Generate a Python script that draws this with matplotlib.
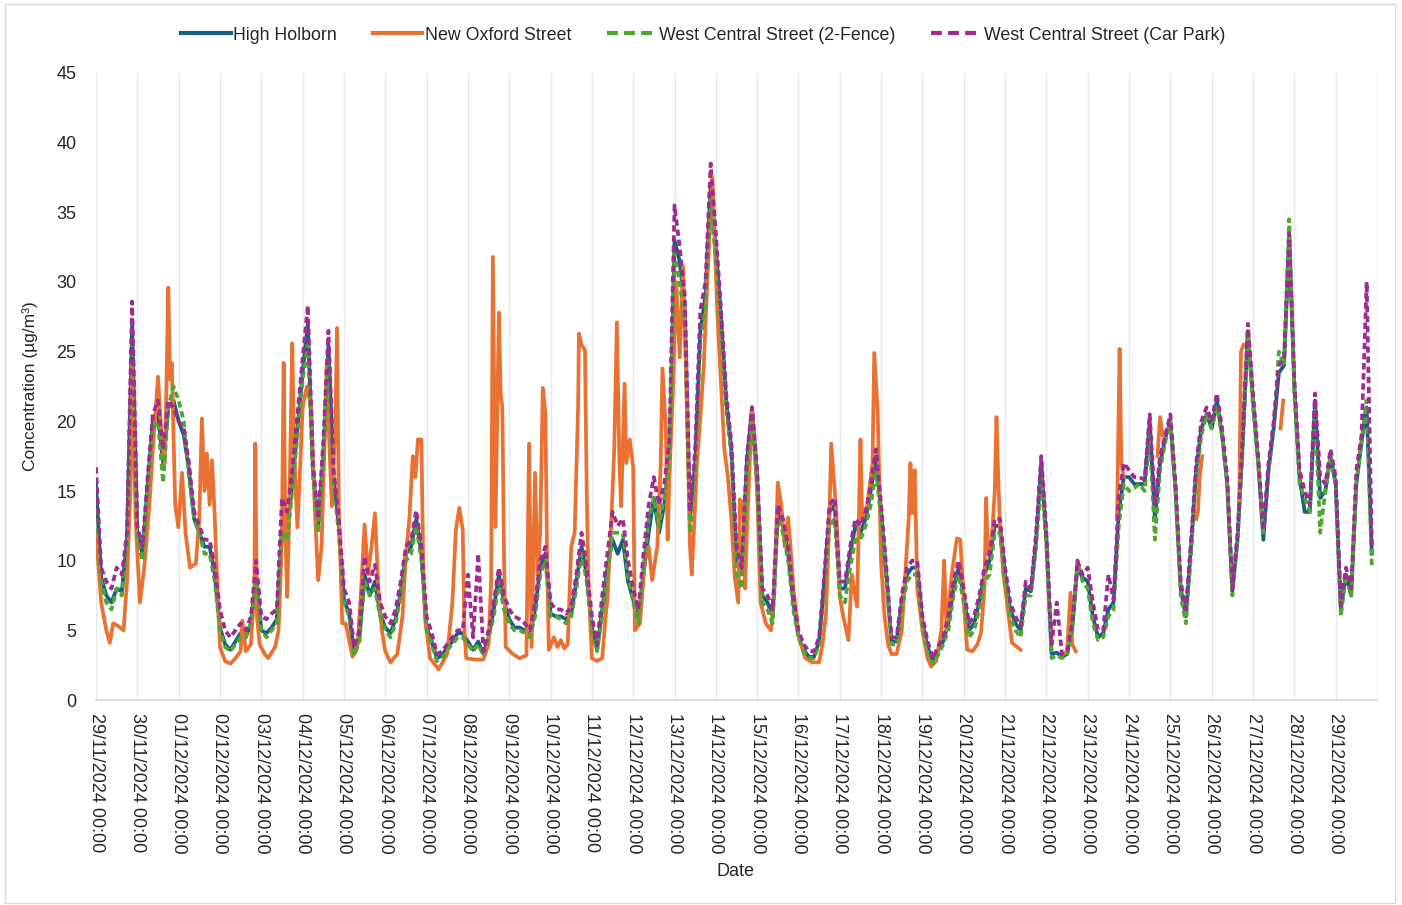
import numpy as np
import matplotlib
matplotlib.use("Agg")
import matplotlib.pyplot as plt
from matplotlib.lines import Line2D
from matplotlib.patches import Rectangle

nan = float("nan")

# ---------------- data ----------------
tick_labels = ["29/11/2024 00:00", "30/11/2024 00:00", "01/12/2024 00:00", "02/12/2024 00:00",
               "03/12/2024 00:00", "04/12/2024 00:00", "05/12/2024 00:00", "06/12/2024 00:00",
               "07/12/2024 00:00", "08/12/2024 00:00", "09/12/2024 00:00", "10/12/2024 00:00",
               "11/12/2024 00:00", "12/12/2024 00:00", "13/12/2024 00:00", "14/12/2024 00:00",
               "15/12/2024 00:00", "16/12/2024 00:00", "17/12/2024 00:00", "18/12/2024 00:00",
               "19/12/2024 00:00", "20/12/2024 00:00", "21/12/2024 00:00", "22/12/2024 00:00",
               "23/12/2024 00:00", "24/12/2024 00:00", "25/12/2024 00:00", "26/12/2024 00:00",
               "27/12/2024 00:00", "28/12/2024 00:00", "29/12/2024 00:00"]

# hours since 29/11/2024 00:00, 3-hourly readings
hours = np.arange(0, 744, 3)

high_holborn = [
    15.5, 8.8, 7.5, 7.0, 8.0, 7.8, 11.5, 27.0,
    12.0, 10.5, 15.5, 20.0, 20.5, 17.0, 21.0, 21.5,
    20.0, 19.0, 16.5, 13.0, 12.0, 11.0, 11.0, 9.0,
    5.2, 4.0, 3.6, 4.2, 4.8, 4.5, 5.5, 9.0,
    5.0, 4.8, 5.2, 5.8, 12.5, 12.0, 15.5, 19.5,
    23.5, 27.0, 16.5, 12.5, 17.5, 25.5, 16.0, 12.5,
    7.2, 6.2, 3.3, 4.5, 9.0, 7.5, 8.5, 6.2,
    5.2, 4.8, 5.8, 7.8, 10.5, 11.0, 13.0, 10.5,
    5.2, 4.2, 3.0, 3.2, 3.8, 4.2, 4.8, 4.8,
    4.2, 3.6, 4.2, 3.3, 4.5, 6.5, 9.0, 7.0,
    5.8, 5.2, 5.2, 5.0, 4.5, 6.5, 9.5, 10.5,
    6.2, 6.0, 6.0, 5.8, 6.2, 8.5, 11.0, 9.0,
    5.2, 3.6, 6.5, 9.5, 11.5, 10.5, 11.5, 8.5,
    7.2, 5.8, 9.0, 12.0, 14.5, 12.0, 14.0, 16.5,
    33.0, 31.5, 28.0, 13.0, 17.0, 26.5, 29.0, 37.0,
    32.5, 27.5, 21.5, 18.0, 10.0, 9.0, 17.0, 21.0,
    16.0, 7.5, 7.0, 6.0, 13.5, 12.5, 10.5, 7.0,
    4.6, 3.6, 3.1, 3.1, 4.2, 8.5, 13.5, 14.0,
    8.0, 8.0, 10.5, 12.5, 12.0, 13.0, 15.0, 17.5,
    13.5, 9.0, 4.2, 4.2, 7.0, 9.0, 9.5, 9.5,
    5.5, 3.8, 2.8, 3.5, 4.2, 5.5, 8.0, 9.5,
    7.5, 5.0, 5.5, 7.0, 9.0, 10.0, 12.5, 12.5,
    9.0, 6.5, 5.5, 5.0, 8.0, 7.8, 11.5, 17.0,
    11.5, 3.3, 3.4, 3.1, 3.3, 5.2, 9.5, 8.8,
    8.5, 6.0, 4.5, 4.8, 6.5, 7.0, 13.5, 16.0,
    16.0, 15.5, 15.5, 15.5, 20.0, 13.0, 17.0, 18.8,
    20.0, 15.0, 8.0, 6.0, 11.0, 16.5, 19.5, 20.5,
    19.5, 21.5, 19.0, 15.5, 7.8, 11.5, 18.5, 26.5,
    21.5, 17.0, 11.5, 16.5, 19.5, 23.5, 24.0, 33.0,
    22.5, 16.0, 13.5, 13.5, 21.5, 14.5, 15.0, 17.5,
    15.5, 6.5, 9.0, 7.5, 15.5, 18.5, 21.0, 10.5]

wcs_fence = [
    14.5, 8.5, 7.0, 6.5, 8.0, 7.5, 11.0, 26.0,
    11.5, 10.0, 15.0, 19.5, 20.0, 15.6, 21.0, 22.5,
    21.5, 20.0, 16.0, 13.0, 12.0, 10.5, 10.5, 8.5,
    5.0, 3.8, 3.5, 4.0, 4.5, 4.5, 5.5, 8.5,
    5.0, 4.5, 5.0, 5.5, 12.0, 11.5, 15.0, 19.0,
    23.0, 25.5, 16.0, 12.0, 17.0, 24.5, 15.5, 12.0,
    7.0, 6.0, 3.2, 4.2, 8.5, 7.5, 8.0, 6.0,
    5.0, 4.5, 5.5, 7.5, 10.0, 10.5, 12.5, 10.0,
    5.0, 4.0, 2.8, 3.0, 3.6, 4.0, 4.5, 4.5,
    4.0, 3.5, 4.0, 3.2, 4.5, 6.0, 8.5, 6.5,
    5.5, 5.0, 5.0, 4.8, 4.5, 6.0, 9.0, 10.0,
    6.0, 6.0, 5.8, 5.5, 6.0, 8.0, 10.5, 8.5,
    5.0, 3.5, 6.0, 9.0, 12.0, 12.0, 12.0, 9.0,
    7.0, 5.5, 9.5, 13.0, 14.5, 12.5, 14.5, 17.0,
    32.0, 30.0, 27.0, 12.0, 16.5, 26.0, 28.0, 36.0,
    31.5, 26.5, 21.0, 17.5, 9.0, 8.0, 16.0, 20.0,
    15.5, 7.0, 6.5, 5.5, 13.0, 12.0, 10.0, 6.5,
    4.5, 3.5, 3.0, 3.0, 4.0, 8.0, 12.5, 13.0,
    7.5, 7.0, 9.5, 11.5, 11.5, 12.5, 14.0, 16.5,
    13.0, 8.5, 4.0, 4.0, 6.5, 8.5, 9.0, 9.0,
    5.0, 3.5, 2.6, 3.2, 4.0, 5.0, 7.5, 9.0,
    7.0, 4.5, 5.0, 6.5, 8.5, 9.0, 12.0, 12.0,
    8.5, 6.0, 5.0, 4.5, 7.5, 7.5, 11.0, 16.0,
    11.0, 3.0, 3.2, 3.0, 3.2, 5.0, 10.0, 8.5,
    8.0, 5.5, 4.3, 4.5, 6.0, 6.5, 12.5, 15.5,
    15.0, 15.2, 15.5, 15.0, 19.0, 11.5, 16.5, 18.5,
    20.0, 15.0, 7.5, 5.5, 10.5, 16.0, 19.0, 20.5,
    19.5, 21.0, 19.0, 15.5, 7.5, 11.5, 18.0, 26.5,
    21.0, 17.0, 12.0, 16.5, 19.5, 25.0, 24.0, 34.5,
    22.0, 15.5, 14.5, 13.5, 21.0, 12.0, 15.0, 17.5,
    15.5, 6.0, 9.0, 7.5, 15.5, 18.5, 21.5, 9.6]

wcs_carpark = [
    16.7, 9.5, 8.5, 8.0, 9.5, 9.0, 12.0, 28.6,
    12.5, 11.0, 16.0, 20.5, 21.5, 18.0, 21.5, 21.0,
    20.0, 19.5, 17.0, 13.5, 12.5, 11.5, 11.5, 9.5,
    6.5, 5.0, 4.5, 5.0, 5.5, 5.0, 6.0, 10.0,
    6.0, 5.8, 6.2, 6.5, 14.5, 13.5, 16.5, 20.5,
    24.5, 28.3, 17.0, 13.0, 18.5, 26.5, 16.5, 13.0,
    8.0, 7.0, 3.8, 5.0, 10.3, 8.5, 9.7, 7.0,
    6.0, 5.5, 6.5, 8.5, 11.0, 11.5, 13.6, 11.0,
    6.0, 4.8, 3.3, 3.5, 4.0, 4.5, 5.0, 5.0,
    9.0, 4.5, 10.5, 3.5, 5.0, 7.0, 9.5, 7.5,
    6.5, 6.0, 5.8, 5.5, 5.0, 7.0, 10.0, 11.0,
    7.0, 6.5, 6.5, 6.2, 6.7, 9.0, 12.0, 9.5,
    6.0, 4.0, 7.5, 10.5, 13.5, 12.5, 13.0, 10.0,
    8.0, 6.5, 10.5, 14.0, 16.0, 14.0, 15.5, 18.5,
    35.5, 32.5, 29.0, 13.5, 18.0, 28.0, 30.0, 38.5,
    33.5, 28.0, 22.0, 18.5, 11.0, 9.5, 17.5, 21.0,
    16.5, 8.0, 7.5, 6.5, 14.0, 13.0, 11.0, 7.5,
    5.0, 4.0, 3.5, 3.5, 4.5, 9.0, 14.0, 14.5,
    8.5, 8.5, 11.0, 13.0, 12.5, 13.5, 15.5, 18.0,
    14.0, 9.5, 4.5, 4.5, 7.5, 9.5, 10.0, 10.0,
    6.0, 4.2, 3.0, 3.8, 4.5, 6.0, 8.5, 10.0,
    8.0, 5.5, 6.0, 7.5, 9.5, 10.5, 13.0, 13.0,
    9.5, 7.0, 6.0, 5.3, 8.5, 8.0, 12.0, 17.5,
    12.0, 4.0, 7.0, 3.3, 3.5, 5.5, 10.0, 9.0,
    9.5, 7.0, 5.0, 5.0, 9.0, 7.2, 14.5, 17.0,
    16.5, 16.0, 16.0, 15.8, 20.5, 14.0, 17.5, 19.0,
    20.5, 15.5, 8.5, 6.5, 11.5, 17.0, 20.0, 21.0,
    20.0, 22.0, 19.5, 16.0, 8.0, 12.0, 19.0, 27.0,
    22.0, 17.5, 12.2, 17.0, 20.0, 24.0, 24.5, 33.5,
    23.0, 16.5, 15.0, 14.0, 22.0, 16.0, 15.5, 18.0,
    16.0, 6.8, 9.5, 8.0, 16.5, 19.0, 30.0, 11.0]

# New Oxford Street: readings (hour, value); nan = missing data
nos_hours = [
    0, 3, 6, 8, 10, 13, 16, 18, 20, 21, 23,
    25.5, 28, 31, 33, 36, 38, 40, 42, 43, 44, 46, 47.8,
    50, 52, 54.6, 58, 60, 61.5, 63, 64.4, 66, 67.4, 69, 70, 72,
    75, 78, 81, 84, 85, 87, 90, 92, 92.5, 93.5, 95,
    98, 100, 104, 106, 107, 108, 109, 110, 111, 112, 114, 115, 117, 119,
    120, 122.5, 125, 127, 129, 131, 134, 135, 137, 139, 140, 141, 143,
    145, 149, 152, 154, 156, 158, 160, 162, 164, 166,
    168, 171, 175, 178, 180, 182, 184, 185.5, 187, 189, 190, 191, 194, 199,
    204, 207, 209, 211, 213, 214, 215, 220, 225, 228, 229.5, 230.5, 232, 234, 235, 236, 237, 238, 242, 246, 250,
    251.5, 253, 255, 256.5, 258, 259.5, 261, 262, 263, 266, 268, 270, 272, 274, 276, 278, 280, 280.5, 282, 284, 285, 286,
    288, 291, 294, 296, 297, 299, 301, 302.5, 304, 305, 307, 308, 310,
    312, 313, 316, 319, 321, 323, 326, 328, 329, 331, 332, 333, 335,
    337, 339, 341, 343, 345, 346, 348, 349, 351, 353, 355, 357, 358, 359,
    361, 364, 365, 367, 369, 371, 373, 374, 376, 377, 378, 381,
    384, 386, 389, 392, 394, 396, 398, 400, 402, 404, 405,
    408, 412, 416, 420, 422, 424, 426, 427, 430, 432, 434, 437, 439, 442, 444, 445, 448, 451, 452, 454,
    456, 458, 460, 462, 465, 468, 470, 472, 473, 474, 475.5, 477,
    480, 483, 485, 488, 491, 492.6, 494, 497, 500, 502, 504, 506, 509, 512, 514, 516, 517, 518, 520,
    522, 523, 524, 525, 527, 528, 532, 537,
    540, 562, 564, 566, 567, 569,
    570, 593, 594.5, 595.5, 597,
    598, 616.5, 618, 619.5,
    620, 639, 640, 641, 642.5,
    643, 664, 665, 666.5,
    667, 688, 689.5]
nos_vals = [
    12.0, 7.0, 5.0, 4.1, 5.5, 5.3, 5.0, 8.5, 15.0, 24.0, 13.0,
    7.0, 9.5, 14.0, 18.0, 23.2, 19.0, 17.0, 29.6, 23.0, 24.2, 14.0, 12.4,
    16.3, 12.0, 9.5, 9.8, 13.0, 20.2, 15.0, 17.7, 14.0, 17.2, 13.0, 9.8, 3.8,
    2.8, 2.6, 3.0, 3.5, 5.7, 3.5, 4.0, 8.0, 18.4, 6.0, 4.0,
    3.3, 3.0, 3.8, 5.0, 8.0, 12.0, 24.2, 12.0, 7.4, 12.0, 25.6, 18.0, 12.4, 18.0,
    21.0, 22.5, 21.0, 14.0, 8.6, 11.0, 24.0, 20.0, 13.9, 20.0, 26.7, 14.0, 5.5,
    5.5, 3.1, 4.0, 8.0, 12.6, 9.0, 11.0, 13.4, 8.0, 5.0,
    3.5, 2.7, 3.3, 6.0, 10.5, 13.0, 17.5, 16.0, 18.7, 18.7, 10.0, 6.0, 3.0, 2.2,
    3.3, 7.0, 12.2, 13.8, 12.2, 5.0, 3.0, 2.9, 2.9, 4.0, 8.6, 31.8, 12.4, 27.8, 22.0, 21.0, 10.0, 3.8, 3.3, 3.0, 3.2,
    18.4, 3.8, 16.3, 9.0, 12.0, 22.4, 20.6, 10.0, 3.6, 4.5, 3.8, 4.3, 3.7, 4.0, 11.0, 12.0, 21.0, 26.3, 25.5, 25.1, 15.0, 8.6,
    3.0, 2.8, 3.0, 6.0, 7.2, 12.0, 18.0, 27.1, 17.0, 13.9, 22.7, 17.0, 18.7,
    16.7, 5.0, 5.5, 10.5, 11.0, 8.6, 11.0, 17.0, 23.8, 19.4, 11.5, 16.0, 22.0,
    30.0, 24.6, 31.1, 22.0, 11.0, 9.0, 14.0, 17.0, 20.3, 24.0, 30.0, 35.0, 37.5, 34.0,
    27.5, 20.3, 17.9, 16.0, 13.0, 8.8, 7.0, 14.4, 14.0, 8.0, 12.0, 21.0,
    15.0, 7.0, 5.5, 5.0, 8.0, 15.6, 14.0, 11.0, 13.1, 10.0, 8.1,
    4.6, 3.0, 2.7, 2.7, 4.0, 6.2, 13.4, 18.4, 13.4, 7.4, 6.0, 4.3, 9.0, 6.7, 18.7, 13.0, 14.0, 17.0, 24.9, 20.7,
    9.8, 6.0, 4.0, 3.3, 3.3, 5.0, 9.0, 13.0, 17.0, 13.4, 16.5, 8.0,
    5.0, 3.0, 2.4, 2.8, 5.0, 10.0, 5.0, 9.0, 11.6, 11.5, 7.0, 3.6, 3.5, 4.0, 4.8, 8.0, 14.5, 10.5, 11.0,
    15.0, 20.3, 16.0, 12.5, 9.0, 8.1, 4.1, 3.6,
    nan, 3.3, 3.5, 7.7, 4.0, 3.5,
    nan, 13.0, 25.2, 17.0, 16.0,
    nan, 17.5, 20.3, 19.0,
    nan, 13.0, 13.5, 16.0, 17.5,
    nan, 14.0, 25.0, 25.5,
    nan, 19.5, 21.5]

series_names = ["High Holborn", "New Oxford Street",
                "West Central Street (2-Fence)", "West Central Street (Car Park)"]
colors = ["#156082", "#E97132", "#4EA72E", "#A02B93"]

# ---------------- figure ----------------
plt.rcParams["font.family"] = ["Liberation Sans", "DejaVu Sans"]
W, H = 1402, 905
fig = plt.figure(figsize=(W / 100, H / 100), dpi=100)
fig.patch.set_facecolor("white")
fig.add_artist(Rectangle((5 / W, 2 / H), 1390 / W, 899 / H, transform=fig.transFigure,
                         fill=False, edgecolor="#D9D9D9", lw=1))

ax = fig.add_axes([96 / W, 1 - 700 / H, (1377 - 96) / W, (700 - 73) / H])

lw = 2.7
dash = (1.7, 1.0)
ax.plot(hours, high_holborn, color=colors[0], lw=lw, zorder=3)
ax.plot(nos_hours, nos_vals, color=colors[1], lw=lw, zorder=4)
ax.plot(hours, wcs_fence, color=colors[2], lw=lw, dashes=dash, zorder=5)
ax.plot(hours, wcs_carpark, color=colors[3], lw=lw, dashes=dash, zorder=6)

ax.set_xlim(0, 744)
ax.set_ylim(0, 45)
ax.set_xticks(np.arange(0, 24 * len(tick_labels), 24))
ax.set_xticklabels(tick_labels, rotation=-90, fontsize=13, color="#262626")
ax.set_yticks(np.arange(0, 46, 5))
ax.set_yticklabels([str(v) for v in range(0, 46, 5)], fontsize=13, color="#262626")
ax.tick_params(axis="x", length=0, pad=9)
ax.tick_params(axis="y", length=0, pad=14)
for lbl in ax.get_xticklabels():
    lbl.set_va("top")
    lbl.set_ha("center")

ax.grid(axis="x", color="#E8E8E8", lw=1, zorder=0)
ax.axvline(744, color="#E8E8E8", lw=1, zorder=0)
for s in ["top", "right", "left"]:
    ax.spines[s].set_visible(False)
ax.spines["bottom"].set_color("#D9D9D9")
ax.spines["bottom"].set_linewidth(1.2)

ax.set_xlabel("Date", fontsize=13, color="#262626")
ax.xaxis.set_label_coords((735 - 96) / (1377 - 96), -(863 - 700) / (700 - 73))
ax.set_ylabel("Concentration (µg/m³)", fontsize=12.5, color="#262626")
ax.yaxis.set_label_coords(-(96 - 38) / (1377 - 96), (700 - 386) / (700 - 73))

handles = [Line2D([], [], color=colors[0], lw=3),
           Line2D([], [], color=colors[1], lw=3),
           Line2D([], [], color=colors[2], lw=3, dashes=(2.6, 1.5)),
           Line2D([], [], color=colors[3], lw=3, dashes=(2.6, 1.5))]
fig.legend(handles, series_names, loc="center", bbox_to_anchor=(703 / W, 1 - 35 / H),
           ncol=4, frameon=False, fontsize=12.8, handlelength=2.8, handletextpad=0.15,
           columnspacing=2.0, labelcolor="#262626")

fig.savefig("out.png", dpi=100, facecolor="white")
